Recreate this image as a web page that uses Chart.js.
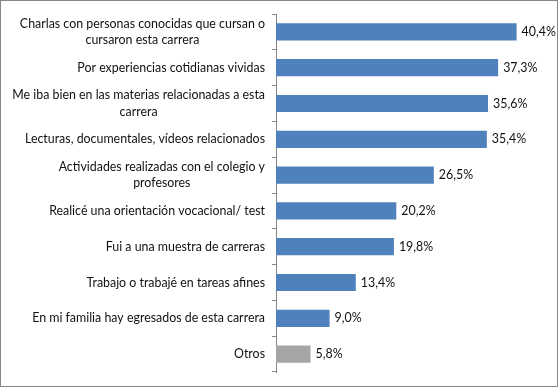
<!DOCTYPE html>
<html>
<head>
<meta charset="utf-8">
<script src="https://cdn.jsdelivr.net/npm/chart.js@4"></script>
<style>
    body { margin: 0; background: #fff; }
    #wrap { position: relative; width: 558px; height: 387px; box-sizing: border-box; border: 1px solid #868686; }
</style>
</head>
<body>
<div id="wrap"><canvas id="chart"></canvas></div>
<script>
const categories = [
    ['Charlas con personas conocidas que cursan o', 'cursaron esta carrera'],
    ['Por experiencias cotidianas vividas'],
    ['Me iba bien en las materias relacionadas a esta', 'carrera'],
    ['Lecturas, documentales, vídeos relacionados'],
    ['Actividades realizadas con el colegio y', 'profesores'],
    ['Realicé una orientación vocacional/ test'],
    ['Fui a una muestra de carreras'],
    ['Trabajo o trabajé en tareas afines'],
    ['En mi familia hay egresados de esta carrera'],
    ['Otros']
];
const values = [40.4, 37.3, 35.6, 35.4, 26.5, 20.2, 19.8, 13.4, 9.0, 5.8];
const barColors = ['#4f81bd', '#4f81bd', '#4f81bd', '#4f81bd', '#4f81bd', '#4f81bd', '#4f81bd', '#4f81bd', '#4f81bd', '#a5a5a5'];

const FONT = '12.4px Lato';

// draws the category labels (right aligned block, lines centred) and value labels
const labelPlugin = {
    id: 'labels',
    afterDatasetsDraw(chart) {
        const ctx = chart.ctx;
        const yScale = chart.scales.y;
        const meta = chart.getDatasetMeta(0);
        ctx.save();
        ctx.font = FONT;
        ctx.fillStyle = '#111';
        ctx.textBaseline = 'middle';

        const right = yScale.right - 11;
        categories.forEach((lines, i) => {
            const y = yScale.getPixelForValue(i);
            const w = Math.max(...lines.map(l => ctx.measureText(l).width));
            const cx = right - w / 2;
            const lh = 16.5;
            ctx.textAlign = 'center';
            lines.forEach((l, j) => {
                ctx.fillText(l, cx, y + (j - (lines.length - 1) / 2) * lh);
            });
        });

        ctx.textAlign = 'left';
        meta.data.forEach((bar, i) => {
            const txt = values[i].toFixed(1).replace('.', ',') + '%';
            ctx.fillText(txt, bar.x + 5, bar.y);
        });
        ctx.restore();
    }
};

new Chart(document.getElementById('chart'), {
    type: 'bar',
    data: {
        labels: categories,
        datasets: [{
            data: values,
            backgroundColor: barColors,
            barPercentage: 0.48,
            categoryPercentage: 1
        }]
    },
    options: {
        indexAxis: 'y',
        responsive: true,
        maintainAspectRatio: false,
        animation: false,
        layout: { padding: { left: 0, right: 13, top: 13, bottom: 14 } },
        plugins: {
            legend: { display: false },
            tooltip: { enabled: false }
        },
        scales: {
            x: {
                display: false,
                min: 0,
                max: 45
            },
            y: {
                afterFit: s => { s.width = 275; },
                grid: {
                    offset: true,
                    drawOnChartArea: false,
                    drawTicks: true,
                    tickLength: 4,
                    color: '#868686'
                },
                border: { display: true, color: '#868686' },
                ticks: { display: false }
            }
        }
    },
    plugins: [labelPlugin]
});
</script>
</body>
</html>
